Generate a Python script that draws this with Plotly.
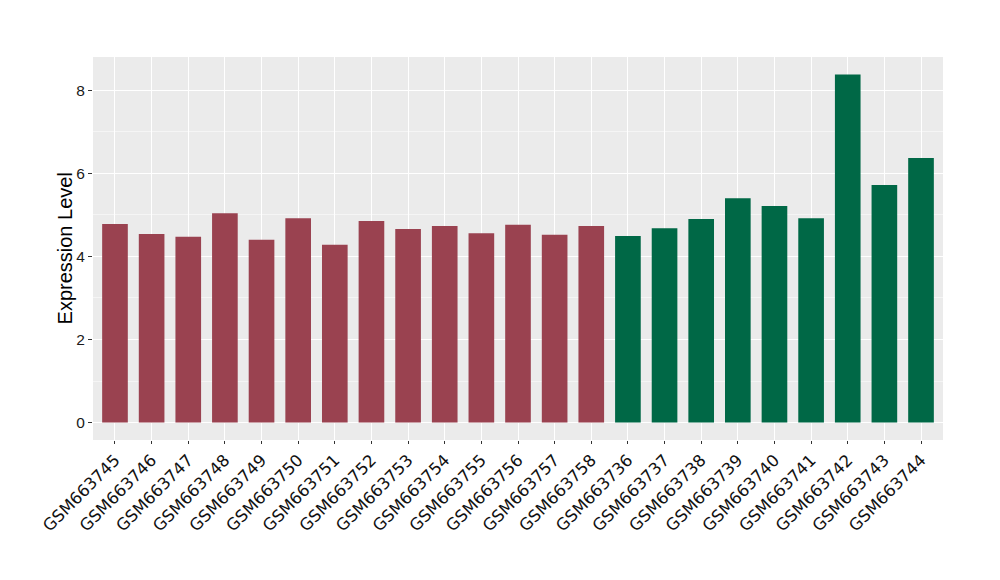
import plotly.graph_objects as go

samples = ["GSM663745", "GSM663746", "GSM663747", "GSM663748", "GSM663749", "GSM663750",
           "GSM663751", "GSM663752", "GSM663753", "GSM663754", "GSM663755", "GSM663756",
           "GSM663757", "GSM663758", "GSM663736", "GSM663737", "GSM663738", "GSM663739",
           "GSM663740", "GSM663741", "GSM663742", "GSM663743", "GSM663744"]
values = [4.78, 4.54, 4.47, 5.04, 4.40, 4.92, 4.28, 4.85, 4.66, 4.73, 4.56, 4.76,
          4.52, 4.73, 4.49, 4.68, 4.90, 5.40, 5.21, 4.92, 8.38, 5.72, 6.37]
groups = ["A"] * 14 + ["B"] * 9
group_colors = {"A": "#9A4250", "B": "#006846"}
y_ticks = [0, 2, 4, 6, 8]
y_title = "Expression Level"

colors = [group_colors[g] for g in groups]

fig = go.Figure()
fig.add_trace(go.Bar(x=samples, y=values, marker=dict(color=colors, line=dict(width=0)),
                     width=0.7, showlegend=False))

ymax = max(values)
fig.update_layout(
    width=1000, height=580,
    margin=dict(l=85, r=65, t=49, b=148),
    paper_bgcolor="white",
    plot_bgcolor="#EBEBEB",
    font=dict(family="DejaVu Sans", color="#1a1a1a"),
    xaxis=dict(
        type="category", categoryorder="array", categoryarray=samples,
        range=[-0.6, len(samples) - 0.4],
        tickangle=-45, tickfont=dict(size=16.5, family="DejaVu Sans", color="#111111"),
        showgrid=True, gridcolor="white", gridwidth=1.4,
        ticks="outside", ticklen=3, tickcolor="#333333", tickwidth=1,
        showline=False, zeroline=False, automargin=False,
    ),
    yaxis=dict(
        range=[-0.05 * ymax, ymax * 1.05],
        tickvals=y_ticks,
        tickfont=dict(size=15.5, family="Liberation Sans", color="#1a1a1a"),
        showgrid=True, gridcolor="white", gridwidth=1.4,
        minor=dict(tickvals=[1, 3, 5, 7], showgrid=True, gridcolor="#F5F5F5", gridwidth=0.7, ticks=""),
        ticks="outside", ticklen=4, tickcolor="#333333", tickwidth=1,
        zeroline=False, showline=False, automargin=False,
    ),
    annotations=[dict(text=y_title, xref="paper", yref="paper", x=-0.033, y=0.5,
                      xanchor="center", yanchor="middle", textangle=-90, showarrow=False,
                      font=dict(size=20, family="Liberation Sans", color="black"))],
    bargap=0.3,
)

fig.write_html("out.html")
